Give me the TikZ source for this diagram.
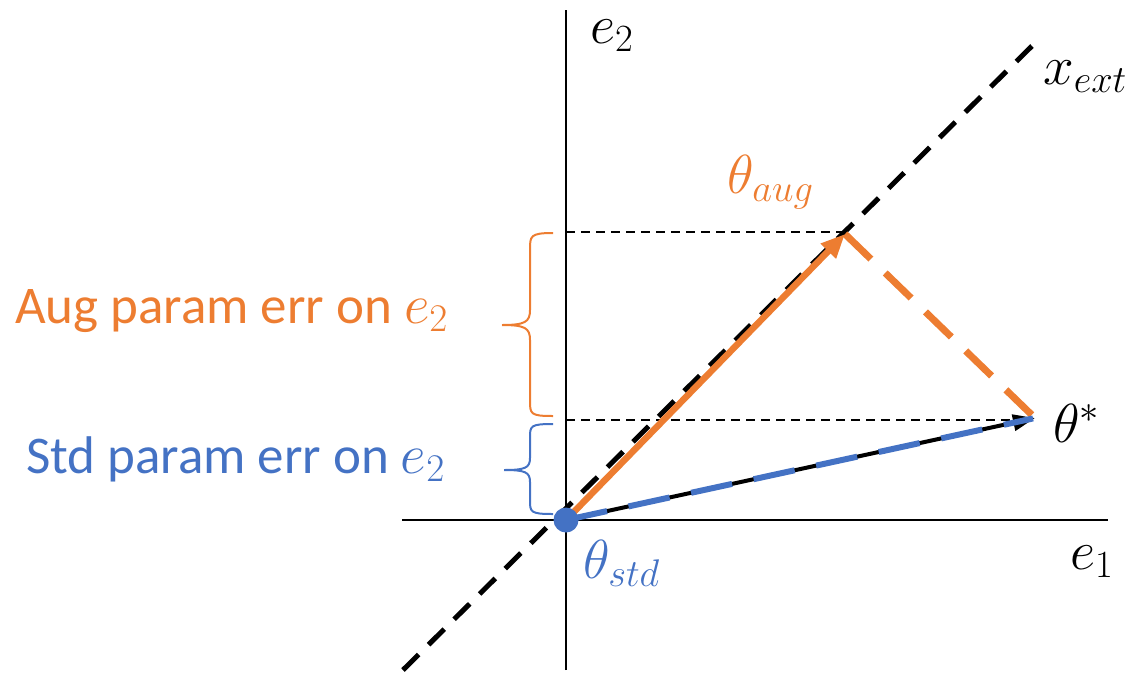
\RequirePackage{fix-cm}
\documentclass[tikz,border=0pt]{standalone}
\usepackage{fontspec}
\setmainfont{Carlito}
\usetikzlibrary{arrows.meta}
\definecolor{aug}{HTML}{ED7D31}
\definecolor{stdc}{HTML}{4472C4}
\newcommand{\mymath}[1]{{\fontsize{56}{62}\selectfont$#1$}}
\begin{document}
\begin{tikzpicture}[x=1pt,y=-1pt,
  lbl/.style={inner sep=0pt,font=\fontsize{53}{60}\selectfont},
  mlbl/.style={inner sep=0pt,font=\fontsize{55}{62}\selectfont},
  axis/.style={line width=2.5pt,black},
  guide/.style={line width=1.8pt,dash pattern=on 9pt off 6pt},
  brc/.style={line width=2pt}]
\useasboundingbox (0,0) rectangle (1135,673);
% coordinates
\coordinate (O) at (566,520);
\coordinate (S) at (1035,418);
\coordinate (A) at (845,234);
\coordinate (xlo) at (403,670);
\coordinate (xhi) at (1036,42);
\coordinate (e2lo) at (566,670);
\coordinate (e2hi) at (566,10);
\coordinate (e1lo) at (402,520);
\coordinate (e1hi) at (1108,520);
\coordinate (gA) at (566,232);
\coordinate (gAe) at (845,232);
\coordinate (gS) at (566,420);
\coordinate (gSe) at (1032,420);
% axes
\draw[axis] (e2lo) -- (e2hi);
\draw[axis] (e1lo) -- (e1hi);
% guides
\draw[guide] (gA) -- (gAe);
\draw[guide] (gS) -- (gSe);
% x_ext line
\draw[line width=5pt,dash pattern=on 22pt off 14pt] (xlo) -- (xhi);
% orange dashed
\draw[aug,line width=7pt,dash pattern=on 36pt off 20pt] (A) -- (S);
% black arrow theta*
\draw[line width=4pt,-{Triangle[length=22pt,width=16pt]}] (O) -- (S);
\draw[stdc,line width=6pt,dash pattern=on 42pt off 22pt,shorten >=2pt] (O) -- (S);
% orange arrow
\draw[aug,line width=6.5pt,-{Triangle[length=24pt,width=20pt]}] (O) -- (A);
% origin dot
\fill[stdc] (O) circle (12.5);
% braces
\draw[aug,brc] (553,233) .. controls (530,233) and (530,236) .. (530,250) -- (530,310) .. controls (530,322) and (525,325) .. (502,325)
  (502,325) .. controls (525,325) and (530,328) .. (530,340) -- (530,400) .. controls (530,414) and (530,416) .. (553,416);
\draw[stdc,brc] (553,424) .. controls (530,424) and (530,426) .. (530,438) -- (530,458) .. controls (530,468) and (525,470) .. (504,470)
  (504,470) .. controls (525,470) and (530,472) .. (530,482) -- (530,500) .. controls (530,512) and (530,514) .. (553,514);
% labels
\node[lbl,aug,anchor=base west] (augtxt) at (15,323) {Aug param err on \mymath{e_2}};
\node[lbl,stdc,anchor=base west] (stdtxt) at (26,473) {Std param err on \mymath{e_2}};
\node[mlbl,anchor=base west] (e2lbl) at (590,43) {$e_2$};
\node[mlbl,anchor=base west] (e1lbl) at (1070,569) {$e_1$};
\node[mlbl,anchor=base west] (xlbl) at (1043,84) {$x_{ext}$};
\node[mlbl,aug,anchor=base west] (augl) at (727,193) {$\theta_{aug}$};
\node[mlbl,anchor=base west] (starl) at (1053,442) {$\theta^*$};
\node[mlbl,stdc,anchor=base west] (stdl) at (583,578) {$\theta_{std}$};
\end{tikzpicture}
\end{document}
